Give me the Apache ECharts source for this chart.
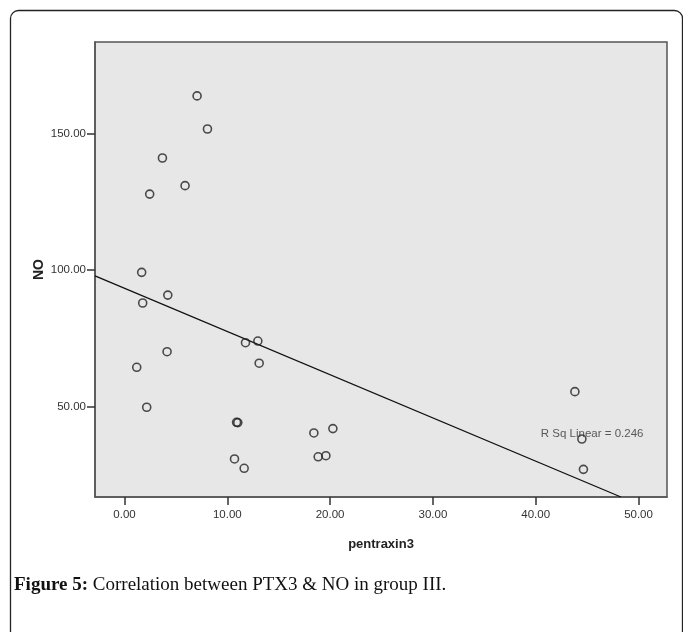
<!DOCTYPE html>
<html><head><meta charset="utf-8">
<script src="https://cdn.jsdelivr.net/npm/echarts@6/dist/echarts.min.js"></script>
<style>html,body{margin:0;padding:0;background:#fff}#c{width:683px;height:632px}</style>
</head><body><div id="c"></div>
<script>
// Data
const pentraxin3 = [7.06, 8.07, 3.69, 5.89, 2.45, 1.67, 4.21, 1.77, 11.77, 12.97, 4.14, 13.10, 1.19, 2.16, 10.90, 11.02, 18.42, 20.27, 10.70, 11.64, 18.84, 19.59, 43.81, 44.49, 44.64];
const no = [163.7, 151.6, 141.0, 130.9, 127.8, 99.2, 90.9, 88.0, 73.5, 74.1, 70.2, 66.0, 64.5, 49.9, 44.4, 44.3, 40.5, 42.1, 31.0, 27.6, 31.8, 32.2, 55.6, 38.3, 27.2];
const xTicks = [0, 10, 20, 30, 40, 50];
const yTicks = [50, 100, 150];
const fitIntercept = 93.4;
const fitSlope = -1.58;
const rSqLabel = 'R Sq Linear = 0.246';
const rSqAnchor = [40.5, 40.1];

const xMin = -2.87, xMax = 52.77, yMin = 17.1, yMax = 183.4;
const fitX0 = xMin;
const fitX1 = (yMin - fitIntercept) / fitSlope;
const fitLine = [[fitX0, fitIntercept + fitSlope * fitX0], [fitX1, fitIntercept + fitSlope * fitX1]];

const chart = echarts.init(document.getElementById('c'), null, {renderer: 'canvas'});
const fmt = v => v.toFixed(2);
const sans = 'Liberation Sans, Arial, sans-serif';
chart.setOption({
  animation: false,
  backgroundColor: '#fff',
  grid: {left: 95, right: 16, top: 42, bottom: 135, show: true, backgroundColor: '#e6e7e6', borderColor: '#555', borderWidth: 1.5},
  xAxis: {
    type: 'value', min: xMin, max: xMax,
    name: 'pentraxin3', nameLocation: 'middle', nameGap: 41, nameMoveOverlap: false,
    nameTextStyle: {fontFamily: sans, fontWeight: 'bold', fontSize: 13, color: '#222'},
    axisLine: {show: true, onZero: false, lineStyle: {color: '#555', width: 1.5}},
    axisTick: {show: true, customValues: xTicks, length: 8, lineStyle: {color: '#333', width: 1.5}},
    axisLabel: {customValues: xTicks, formatter: fmt, color: '#333', fontSize: 11.5, fontFamily: sans, margin: 12},
    splitLine: {show: false}
  },
  yAxis: {
    type: 'value', min: yMin, max: yMax,
    name: 'NO', nameLocation: 'middle', nameGap: 49, nameRotate: 90, nameMoveOverlap: false,
    nameTextStyle: {fontFamily: sans, fontWeight: 'bold', fontSize: 14, color: '#222'},
    axisLine: {show: true, onZero: false, lineStyle: {color: '#555', width: 1.5}},
    axisTick: {show: true, customValues: yTicks, length: 8, lineStyle: {color: '#333', width: 1.5}},
    axisLabel: {customValues: yTicks, formatter: fmt, color: '#333', fontSize: 11.5, fontFamily: sans, margin: 9},
    splitLine: {show: false}
  },
  series: [
    {type: 'line', data: fitLine, showSymbol: false, symbol: 'none', lineStyle: {color: '#111', width: 1.3}, z: 2},
    {type: 'scatter', data: pentraxin3.map((x, i) => [x, no[i]]), symbol: 'circle', symbolSize: 8,
     itemStyle: {color: 'rgba(0,0,0,0)', borderColor: '#222', borderWidth: 1.6}, z: 3},
    {type: 'scatter', data: [rSqAnchor], symbolSize: 0, z: 4,
     label: {show: true, position: 'right', distance: 0, formatter: rSqLabel, color: '#333', fontSize: 11.5, fontFamily: sans}}
  ],
  graphic: [
    {type: 'rect', shape: {x: 10.5, y: 10.5, width: 672, height: 640, r: 8}, style: {fill: 'none', stroke: '#222', lineWidth: 1.3}, z: -1, silent: true},
    {type: 'text', left: 14, top: 576, style: {
      text: '{b|Figure 5:} Correlation between PTX3 & NO in group III.',
      rich: {b: {fontFamily: 'Liberation Serif, serif', fontWeight: 'bold', fontSize: 19, fill: '#111'}},
      fontFamily: 'Liberation Serif, serif', fontSize: 19, fill: '#111'}}
  ]
});
</script></body></html>
